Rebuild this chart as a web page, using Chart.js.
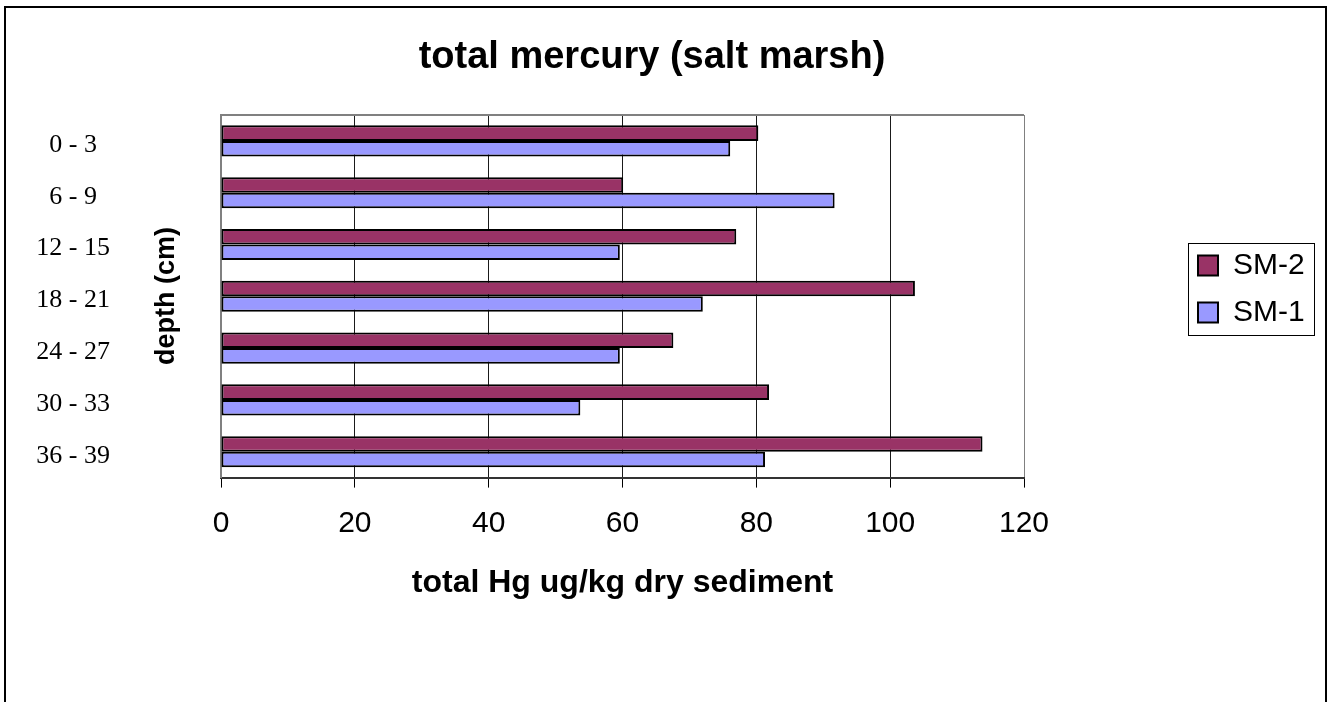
<!DOCTYPE html>
<html>
<head>
<meta charset="utf-8">
<title>total mercury (salt marsh)</title>
<script src="https://cdn.jsdelivr.net/npm/chart.js@4/dist/chart.umd.min.js"></script>
<style>
  html, body { margin: 0; padding: 0; background: #fff; }
  canvas { display: block; }
</style>
</head>
<body>
<canvas id="myChart" width="1329" height="702"></canvas>
<script>
// depth slices (cm)
const depths = ["0 - 3", "6 - 9", "12 - 15", "18 - 21", "24 - 27", "30 - 33", "36 - 39"];
// total Hg ug/kg dry sediment
const sm2 = [80.3, 60.1, 77.0, 103.7, 67.6, 81.9, 113.8];
const sm1 = [76.1, 91.7, 59.6, 72.0, 59.6, 53.7, 81.3];
const xTicks = [0, 20, 40, 60, 80, 100, 120];

const SANS = "'Liberation Sans', Arial, sans-serif";
const SERIF = "'Liberation Serif', 'Times New Roman', serif";

// legend frame like the excel one
const legendFrame = { x: 1188, y: 243, w: 126, h: 92 };

// white page + outer frame
const sheetFrame = {
  id: "sheetFrame",
  beforeDraw(chart) {
    const ctx = chart.ctx;
    ctx.save();
    ctx.fillStyle = "#fff";
    ctx.fillRect(0, 0, chart.width, chart.height);
    ctx.strokeStyle = "#000";
    ctx.lineWidth = 2;
    ctx.strokeRect(5, 7, 1321, 720);
    ctx.restore();
  },
  beforeDatasetsDraw(chart) {
    // grey top edge of plot area
    const { ctx, chartArea } = chart;
    ctx.save();
    ctx.strokeStyle = "#808080";
    ctx.lineWidth = 2;
    ctx.beginPath();
    ctx.moveTo(chartArea.left, chartArea.top);
    ctx.lineTo(chartArea.right, chartArea.top);
    ctx.stroke();
    ctx.restore();
  },
  afterDraw(chart) {
    const ctx = chart.ctx;
    ctx.save();
    // y axis title sits between labels and plot
    ctx.translate(167, 296);
    ctx.rotate(-Math.PI / 2);
    ctx.font = "bold 27px " + SANS;
    ctx.fillStyle = "#000";
    ctx.textAlign = "center";
    ctx.textBaseline = "middle";
    ctx.fillText("depth (cm)", 0, 0);
    ctx.restore();
    // legend border
    ctx.save();
    ctx.strokeStyle = "#000";
    ctx.lineWidth = 1;
    ctx.strokeRect(legendFrame.x + 0.5, legendFrame.y + 0.5, legendFrame.w, legendFrame.h);
    ctx.restore();
  },
};

// keep the legend box wide so the plot ends at the 120 line, then move it
const legendPlace = {
  id: "legendPlace",
  beforeInit(chart) {
    const fit = chart.legend.fit;
    chart.legend.fit = function () {
      fit.call(this);
      this.width = 280;
    };
  },
  afterLayout(chart) {
    const lg = chart.legend;
    lg.left = legendFrame.x - 7;
    lg.top = legendFrame.y - 9.5;
    lg.right = legendFrame.x + legendFrame.w;
    lg.bottom = lg.top + 130;
    lg.width = lg.right - lg.left;
    lg.height = lg.bottom - lg.top;
  },
};

const ctx = document.getElementById("myChart");
new Chart(ctx, {
  type: "bar",
  data: {
    labels: depths,
    datasets: [
      {
        label: "SM-2",
        data: sm2,
        backgroundColor: "#993366",
        borderColor: "#000",
        borderWidth: 2,
        borderSkipped: false,
      },
      {
        label: "SM-1",
        data: sm1,
        backgroundColor: "#9999FF",
        borderColor: "#000",
        borderWidth: 2,
        borderSkipped: false,
      },
    ],
  },
  options: {
    indexAxis: "y",
    responsive: false,
    animation: false,
    devicePixelRatio: 1,
    categoryPercentage: 0.6,
    barPercentage: 1.0,
    layout: {
      padding: { top: 0, left: 0, right: 25, bottom: 96 },
    },
    plugins: {
      tooltip: { enabled: false },
      title: {
        display: true,
        text: "total mercury (salt marsh)",
        color: "#000",
        font: { family: SANS, size: 38, weight: "bold", lineHeight: 1.2 },
        padding: { top: 35, bottom: 34.4 },
      },
      legend: {
        display: true,
        position: "right",
        align: "start",
        labels: {
          color: "#000",
          font: { family: SANS, size: 30 },
          boxWidth: 20,
          boxHeight: 20,
          padding: 17,
        },
      },
    },
    scales: {
      x: {
        type: "linear",
        min: 0,
        max: 120,
        afterBuildTicks(scale) {
          scale.ticks = xTicks.map((v) => ({ value: v }));
        },
        ticks: {
          color: "#000",
          padding: 18,
          maxRotation: 0,
          font: { family: SANS, size: 30 },
        },
        grid: {
          color: (c) =>
            c.tick && (c.tick.value === 0 || c.tick.value === 120) ? "#808080" : "#1a1a1a",
          tickColor: "#000",
          tickLength: 10,
          lineWidth: 1,
        },
        border: { display: true, color: "#333", width: 2 },
        title: {
          display: true,
          text: "total Hg ug/kg dry sediment",
          color: "#000",
          font: { family: SANS, size: 32, weight: "bold", lineHeight: 1.2 },
          padding: { top: 4, bottom: 4 },
        },
      },
      y: {
        type: "category",
        afterFit(scale) {
          scale.width = 221;
          // the big label gap should not push the plot down
          scale.paddingTop = 0;
          scale.paddingBottom = 0;
        },
        ticks: {
          color: "#000",
          crossAlign: "center",
          padding: 111,
          labelOffset: 4,
          font: { family: SERIF, size: 26 },
        },
        grid: { display: false, drawTicks: false },
        border: { display: true, color: "#808080", width: 2 },
      },
    },
  },
  plugins: [sheetFrame, legendPlace],
});
</script>
</body>
</html>
